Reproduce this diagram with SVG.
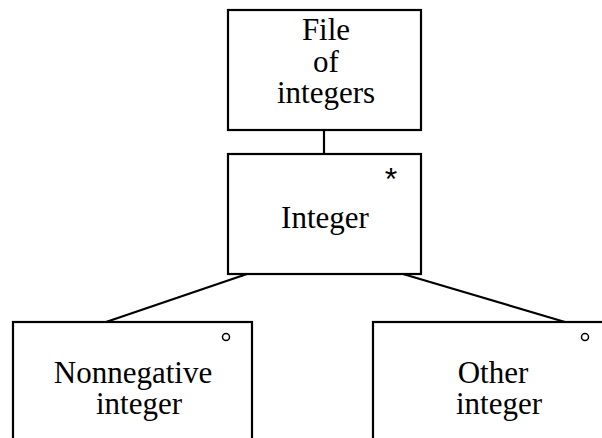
<svg xmlns="http://www.w3.org/2000/svg" width="602" height="438" viewBox="0 0 602 438">
  <style>
    .box { fill: #ffffff; stroke: #000000; stroke-width: 2.2; }
    .edge { stroke: #000000; stroke-width: 2.2; fill: none; }
    .label { font-family: "Liberation Serif", "Times New Roman", serif; font-size: 31px; fill: #000000; text-anchor: middle; }
    .mark { font-family: "Liberation Sans", Arial, sans-serif; font-size: 32px; fill: #000000; text-anchor: middle; }
    .opt { fill: none; stroke: #000000; stroke-width: 1.5; }
  </style>
  <rect width="602" height="438" fill="#ffffff"/>

  <!-- connectors -->
  <g id="connectors">
    <line class="edge" x1="324" y1="130" x2="324" y2="154"/>
    <line class="edge" x1="247" y1="274" x2="106" y2="322"/>
    <line class="edge" x1="403" y1="274" x2="565" y2="322"/>
  </g>

  <!-- root: file of integers -->
  <g id="file-of-integers">
    <rect class="box" x="228" y="10" width="193" height="120"/>
    <text class="label"><tspan x="326" y="40">File</tspan><tspan x="326" y="72">of</tspan><tspan x="326" y="103">integers</tspan></text>
  </g>

  <!-- iterated component -->
  <g id="integer">
    <rect class="box" x="228" y="154" width="193" height="120"/>
    <text class="mark" x="391" y="190">*</text>
    <text class="label" x="325" y="228">Integer</text>
  </g>

  <!-- selection: nonnegative -->
  <g id="nonnegative-integer">
    <rect class="box" x="13" y="322" width="239" height="130"/>
    <circle class="opt" cx="226" cy="337" r="3.5"/>
    <text class="label"><tspan x="133" y="383">Nonnegative</tspan><tspan x="139" y="414">integer</tspan></text>
  </g>

  <!-- selection: other -->
  <g id="other-integer">
    <rect class="box" x="373" y="322" width="250" height="130"/>
    <circle class="opt" cx="585" cy="337" r="3.5"/>
    <text class="label"><tspan x="493" y="383">Other</tspan><tspan x="499" y="414">integer</tspan></text>
  </g>
</svg>
